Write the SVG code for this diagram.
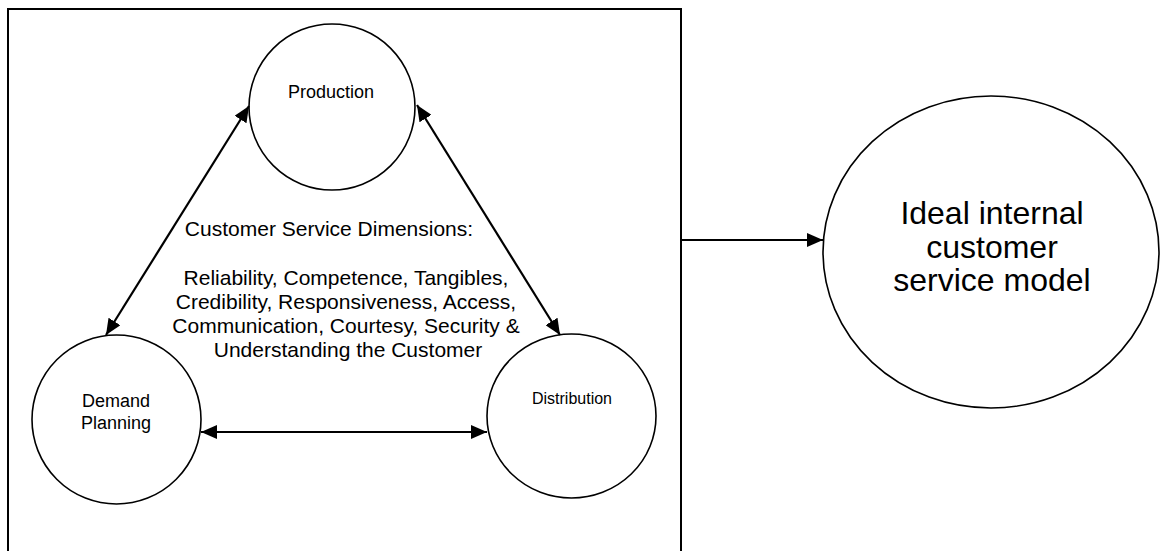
<svg xmlns="http://www.w3.org/2000/svg" width="1160" height="551" viewBox="0 0 1160 551">
  <style>
    .frame { fill: none; stroke: #000; stroke-width: 2; }
    .node { fill: #fff; stroke: #000; stroke-width: 1.6; }
    .link { fill: none; stroke: #000; stroke-width: 2.2; }
    text { font-family: "Liberation Sans", Arial, sans-serif; fill: #000; text-anchor: middle; }
    .small { font-size: 18px; }
    .tiny { font-size: 16px; }
    .body { font-size: 21px; }
    .big { font-size: 32px; }
  </style>
  <defs>
    <!-- filled triangular arrowhead, reused at both ends of two-way links -->
    <marker id="head" markerUnits="userSpaceOnUse" markerWidth="17" markerHeight="14" refX="16" refY="7" orient="auto-start-reverse">
      <path d="M0,0 L16,7 L0,14 z" fill="#000"/>
    </marker>
  </defs>

  <rect id="frame" class="frame" x="8" y="9" width="673" height="560"/>

  <g id="production">
    <circle class="node" cx="332" cy="107" r="83"/>
    <text class="small" x="331" y="98">Production</text>
  </g>

  <g id="demand-planning">
    <circle class="node" cx="116.5" cy="419.5" r="84.5"/>
    <text class="small" x="116" y="407">Demand</text>
    <text class="small" x="116" y="429">Planning</text>
  </g>

  <g id="distribution">
    <ellipse class="node" cx="571.5" cy="416" rx="84.5" ry="82"/>
    <text class="tiny" x="572" y="404">Distribution</text>
  </g>

  <g id="dimensions">
    <text class="body" x="329" y="235.5">Customer Service Dimensions:</text>
    <text class="body" x="346" y="284.5">Reliability, Competence, Tangibles,</text>
    <text class="body" x="346" y="308.5">Credibility, Responsiveness, Access,</text>
    <text class="body" x="346" y="332.5">Communication, Courtesy, Security &amp;</text>
    <text class="body" x="348" y="357">Understanding the Customer</text>
  </g>

  <g id="ideal-model">
    <ellipse class="node" cx="991" cy="252" rx="168" ry="156"/>
    <text class="big" x="992" y="224">Ideal internal</text>
    <text class="big" x="992" y="258">customer</text>
    <text class="big" x="992" y="291">service model</text>
  </g>

  <g id="connectors">
    <line class="link" x1="249" y1="106" x2="106" y2="335" marker-start="url(#head)" marker-end="url(#head)"/>
    <line class="link" x1="417" y1="105" x2="560" y2="335" marker-start="url(#head)" marker-end="url(#head)"/>
    <line class="link" x1="201" y1="432" x2="487" y2="432" marker-start="url(#head)" marker-end="url(#head)"/>
    <line class="link" x1="681" y1="240" x2="823" y2="240" marker-end="url(#head)"/>
  </g>
</svg>
